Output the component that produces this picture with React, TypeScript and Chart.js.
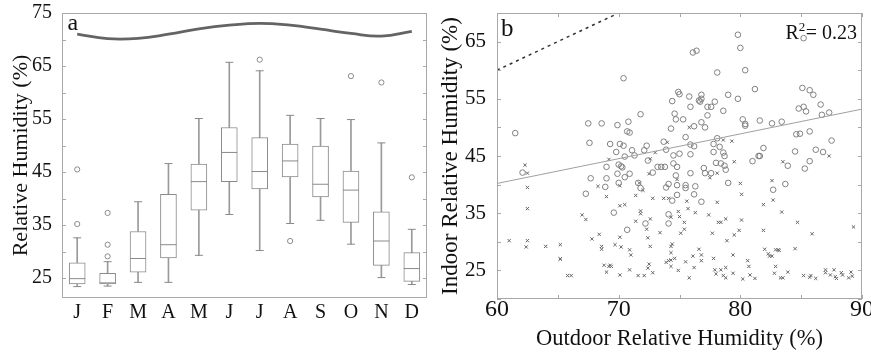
import React, { useEffect, useRef } from 'react';
import { Chart, registerables } from 'chart.js';

Chart.register(...registerables);

// ---------- Panel a: monthly indoor RH box plots ----------
const months = ['Jan', 'Feb', 'Mar', 'Apr', 'May', 'Jun', 'Jul', 'Aug', 'Sep', 'Oct', 'Nov', 'Dec'];
const monthTickLabels = ['J', 'F', 'M', 'A', 'M', 'J', 'J', 'A', 'S', 'O', 'N', 'D'];
const whiskerLow = [23.4, 23.5, 24.2, 24.2, 29.3, 37.0, 30.2, 35.3, 35.9, 31.4, 25.1, 23.8];
const boxQ1 = [23.9, 23.9, 26.1, 28.8, 37.8, 43.2, 41.8, 44.1, 40.3, 35.5, 27.4, 24.4];
const boxMedian = [24.9, 24.1, 28.7, 31.3, 43.2, 48.7, 45.1, 47.1, 42.7, 41.6, 32.0, 26.8];
const boxQ3 = [27.9, 25.9, 33.8, 40.8, 46.5, 53.4, 51.5, 50.3, 49.9, 45.2, 37.5, 29.8];
const whiskerHigh = [32.6, 28.1, 39.4, 46.6, 55.1, 65.7, 64.1, 55.7, 55.1, 54.9, 50.5, 34.2];
const outlierMonth = ['Jan', 'Jan', 'Feb', 'Feb', 'Feb', 'Jul', 'Aug', 'Oct', 'Nov', 'Dec'];
const outlierValue = [45.5, 35.2, 37.3, 31.3, 29.1, 66.2, 32.0, 63.1, 61.9, 44.0];
const outdoorMonthlyMean = [71.0, 70.15, 70.2, 71.0, 72.0, 72.7, 73.05, 72.7, 71.95, 71.15, 70.65, 71.55];
const boxTicks = [25, 35, 45, 55, 65, 75];

// ---------- Panel b: indoor vs outdoor RH ----------
const circleX = [61.5, 62.1, 67.5, 67.6, 67.7, 67.3, 68.6, 69.3, 69.0, 69.0, 68.9, 69.6, 69.9, 70.1, 69.8, 70.0, 69.9, 70.0, 70.2, 70.4, 70.8, 70.7, 70.9, 70.4, 70.5, 70.3, 70.5, 70.9, 70.7, 71.1, 71.3, 71.6, 71.8, 71.8, 72.1, 72.3, 72.4, 72.2, 72.8, 73.2, 73.5, 73.8, 73.7, 73.9, 73.9, 74.1, 74.1, 74.1, 74.3, 74.4, 74.6, 74.7, 74.5, 74.5, 74.8, 74.7, 74.8, 74.4, 74.8, 74.9, 75.0, 75.0, 75.3, 75.5, 75.5, 75.5, 75.8, 75.9, 75.9, 75.9, 75.9, 76.2, 76.2, 76.1, 76.4, 76.3, 76.2, 76.6, 76.7, 76.8, 76.8, 76.8, 76.8, 77.1, 77.0, 77.1, 77.3, 77.3, 77.6, 77.9, 77.6, 77.8, 77.8, 78.1, 78.0, 78.1, 78.3, 78.4, 78.6, 78.6, 78.7, 78.7, 78.8, 79.0, 79.0, 79.8, 79.8, 80.0, 80.4, 80.2, 80.4, 80.4, 81.0, 81.2, 81.5, 81.6, 81.6, 81.9, 82.6, 82.7, 83.4, 83.7, 83.9, 84.5, 84.6, 84.9, 84.8, 85.1, 85.2, 85.2, 85.4, 85.3, 85.7, 85.7, 85.7, 86.0, 86.2, 86.6, 86.7, 86.8, 87.3, 87.5];
const circleY = [49.0, 42.1, 50.7, 47.3, 41.1, 38.4, 50.7, 47.1, 43.1, 41.1, 39.6, 35.1, 50.4, 47.1, 45.7, 43.5, 41.9, 40.3, 43.2, 58.6, 51.0, 49.3, 49.1, 46.8, 44.9, 43.0, 41.3, 41.9, 32.1, 46.0, 45.1, 40.3, 39.4, 52.3, 46.0, 46.8, 44.2, 33.2, 42.1, 43.1, 43.1, 43.1, 47.5, 46.1, 39.5, 40.1, 34.8, 33.2, 49.8, 54.6, 52.4, 51.4, 45.1, 43.7, 43.1, 41.6, 38.2, 37.2, 39.9, 56.2, 55.8, 45.4, 51.4, 48.3, 39.9, 39.4, 55.4, 53.6, 47.0, 45.3, 42.0, 50.2, 46.7, 63.1, 63.4, 39.7, 38.3, 54.7, 54.5, 55.0, 55.7, 50.9, 37.0, 50.0, 42.9, 42.0, 53.6, 52.1, 42.0, 54.5, 53.6, 47.1, 45.7, 59.6, 43.8, 48.1, 46.6, 43.7, 52.9, 45.6, 45.0, 43.3, 42.6, 40.3, 55.7, 66.2, 55.0, 63.9, 60.0, 51.4, 50.6, 50.3, 44.1, 56.7, 45.0, 45.0, 51.2, 46.4, 50.7, 39.1, 51.0, 40.1, 43.3, 45.8, 48.8, 48.9, 53.3, 56.9, 65.6, 53.6, 52.8, 42.8, 56.5, 49.3, 44.1, 55.7, 46.1, 54.0, 52.2, 45.7, 52.6, 47.7];
const crossX = [61.0, 62.3, 62.5, 62.5, 62.5, 62.5, 62.4, 64.0, 65.2, 65.2, 65.2, 65.8, 66.1, 67.0, 67.3, 67.8, 68.3, 68.4, 68.6, 68.6, 68.8, 69.0, 69.0, 69.2, 69.3, 69.4, 69.2, 69.7, 70.1, 70.1, 70.2, 70.1, 70.5, 70.1, 70.9, 71.0, 70.9, 71.4, 71.4, 71.6, 71.8, 71.8, 71.7, 72.0, 72.1, 72.3, 72.4, 72.4, 72.5, 72.6, 72.5, 72.6, 72.6, 72.8, 72.8, 73.0, 73.4, 73.7, 73.9, 74.1, 74.3, 74.3, 74.3, 74.4, 74.3, 74.1, 74.0, 74.3, 74.6, 74.8, 74.9, 74.9, 75.0, 75.1, 75.4, 75.4, 75.5, 75.6, 75.7, 75.8, 75.8, 76.1, 76.2, 76.3, 76.6, 76.8, 76.8, 77.4, 77.5, 77.7, 77.8, 77.9, 78.0, 78.1, 78.1, 78.2, 78.4, 78.4, 78.6, 78.6, 78.8, 78.8, 78.8, 78.9, 79.3, 79.4, 79.4, 79.5, 79.5, 79.9, 80.0, 80.1, 80.1, 80.2, 80.6, 80.7, 80.8, 81.2, 81.9, 81.9, 82.0, 82.3, 82.4, 82.6, 82.7, 82.6, 82.9, 82.9, 82.8, 83.1, 83.2, 83.3, 83.5, 83.4, 83.5, 83.9, 84.5, 84.7, 85.2, 85.7, 85.8, 85.9, 86.2, 87.0, 87.0, 87.3, 87.4, 87.7, 87.8, 87.9, 88.3, 88.4, 88.9, 89.1, 89.2, 89.3];
const crossY = [30.2, 43.4, 42.0, 39.5, 35.8, 30.2, 29.1, 29.2, 29.5, 27.0, 27.0, 24.1, 24.1, 34.7, 33.9, 30.5, 39.7, 31.3, 29.2, 28.7, 25.9, 37.9, 24.7, 25.7, 25.9, 25.7, 44.4, 29.5, 30.8, 24.2, 29.1, 36.3, 36.5, 39.8, 28.6, 27.7, 25.1, 38.1, 33.6, 24.1, 35.4, 34.9, 40.3, 39.0, 24.1, 32.2, 30.7, 25.4, 41.9, 44.5, 26.1, 34.0, 29.2, 37.6, 24.6, 45.6, 31.6, 37.6, 26.4, 26.7, 26.8, 25.7, 29.2, 29.6, 28.1, 37.6, 47.4, 34.3, 27.1, 40.9, 25.0, 35.3, 34.4, 31.5, 32.2, 33.4, 26.5, 37.1, 35.8, 50.0, 23.7, 27.5, 25.5, 35.1, 28.7, 27.7, 26.7, 34.7, 41.2, 31.5, 27.1, 25.1, 24.4, 42.0, 36.9, 33.4, 25.1, 33.4, 47.8, 24.1, 34.0, 25.5, 23.7, 30.2, 47.6, 27.7, 24.5, 44.0, 31.2, 32.0, 40.2, 38.3, 33.8, 23.5, 26.7, 25.7, 24.2, 23.6, 36.5, 32.0, 28.7, 27.9, 27.5, 40.7, 37.3, 27.5, 28.6, 25.7, 24.5, 28.6, 28.5, 23.7, 23.7, 35.2, 44.0, 24.7, 28.8, 33.4, 24.1, 23.8, 24.1, 31.4, 23.6, 25.1, 24.6, 45.0, 24.2, 25.1, 23.9, 23.6, 24.6, 24.2, 23.7, 24.7, 24.0, 32.6];
const regressionX = [60, 90];
const regressionY = [40.2, 53.2];
const identityX = [60, 70];
const identityY = [60, 70];
const scatterXTicks = [60, 70, 80, 90];
const scatterYTicks = [25, 35, 45, 55, 65];
const r2Text = '0.23';

const SERIF = "'Liberation Serif', 'DejaVu Serif', serif";
const INK = '#111';

function fixAxis(size: number, horizontal: boolean) {
  return (scale: any) => {
    if (horizontal) scale.height = size;
    else scale.width = size;
    scale.paddingTop = 0;
    scale.paddingBottom = 0;
    scale.paddingLeft = 0;
    scale.paddingRight = 0;
  };
}

const framePlugin = {
  id: 'frame',
  afterDatasetsDraw(chart: any, _args: any, opts: any) {
    const { ctx, chartArea: a } = chart;
    const xs = chart.scales.x;
    const ys = chart.scales.y;
    ctx.save();
    ctx.strokeStyle = '#a8a8a8';
    ctx.lineWidth = 1;
    ctx.strokeRect(Math.round(a.left) + 0.5, Math.round(a.top) + 0.5, Math.round(a.right - a.left) - 1, Math.round(a.bottom - a.top) - 1);
    const len = 4;
    ctx.beginPath();
    const yStep = opts.yStep;
    for (let v = Math.ceil(ys.min / yStep) * yStep; v <= ys.max + 1e-6; v += yStep) {
      const py = Math.round(ys.getPixelForValue(v)) + 0.5;
      ctx.moveTo(a.left, py);
      ctx.lineTo(a.left + len, py);
      ctx.moveTo(a.right - len, py);
      ctx.lineTo(a.right, py);
    }
    if (opts.xStep) {
      const xStep = opts.xStep;
      for (let v = Math.ceil(xs.min / xStep) * xStep; v <= xs.max + 1e-6; v += xStep) {
        const px = Math.round(xs.getPixelForValue(v)) + 0.5;
        ctx.moveTo(px, a.top);
        ctx.lineTo(px, a.top + len);
        ctx.moveTo(px, a.bottom - len);
        ctx.lineTo(px, a.bottom);
      }
    }
    ctx.stroke();

    ctx.fillStyle = INK;
    ctx.textAlign = 'left';
    ctx.textBaseline = 'alphabetic';
    ctx.font = `${opts.letterSize}px ${SERIF}`;
    ctx.fillText(opts.letter, a.left + opts.letterDx, a.top + opts.letterDy);

    if (opts.r2) {
      const baseY = a.top + 25.5;
      ctx.font = `20px ${SERIF}`;
      ctx.textAlign = 'right';
      const rest = '= ' + opts.r2;
      const rightX = a.right - 5;
      ctx.fillText(rest, rightX, baseY);
      const restW = ctx.measureText(rest).width;
      ctx.font = `13px ${SERIF}`;
      const supW = ctx.measureText('2').width;
      ctx.fillText('2', rightX - restW - 0.5, baseY - 8);
      ctx.font = `20px ${SERIF}`;
      ctx.fillText('R', rightX - restW - supW - 0.5, baseY);
    }
    ctx.restore();
  },
};

function PanelA() {
  const ref = useRef<HTMLCanvasElement | null>(null);
  useEffect(() => {
    if (!ref.current) return;
    const grey = '#8a8a8a';
    const chart = new Chart(ref.current, {
      type: 'bar',
      data: {
        labels: months,
        datasets: [
          {
            type: 'line',
            data: outdoorMonthlyMean,
            borderColor: '#646464',
            borderWidth: 2.8,
            tension: 0.45,
            pointRadius: 0,
            fill: false,
          } as any,
          {
            type: 'line',
            data: boxMedian,
            showLine: false,
            pointStyle: 'line',
            pointRadius: 8,
            pointBorderColor: grey,
            pointBorderWidth: 1,
          } as any,
          {
            type: 'line',
            data: whiskerHigh,
            showLine: false,
            pointStyle: 'line',
            pointRadius: 4,
            pointBorderColor: grey,
            pointBorderWidth: 1,
          } as any,
          {
            type: 'line',
            data: whiskerLow,
            showLine: false,
            pointStyle: 'line',
            pointRadius: 4,
            pointBorderColor: grey,
            pointBorderWidth: 1,
          } as any,
          {
            type: 'line',
            data: outlierMonth.map((m, i) => ({ x: m, y: outlierValue[i] })),
            showLine: false,
            pointStyle: 'circle',
            pointRadius: 2.6,
            pointBorderColor: grey,
            pointBackgroundColor: 'rgba(0,0,0,0)',
            pointBorderWidth: 1,
          } as any,
          {
            type: 'bar',
            data: boxQ1.map((q, i) => [q, boxQ3[i]]),
            grouped: false,
            barThickness: 16,
            backgroundColor: '#ffffff',
            borderColor: grey,
            borderWidth: 1,
            borderSkipped: false,
          } as any,
          {
            type: 'bar',
            data: whiskerLow.map((w, i) => [w, boxQ1[i]]),
            grouped: false,
            barThickness: 1,
            backgroundColor: '#9a9a9a',
            borderWidth: 0,
          } as any,
          {
            type: 'bar',
            data: boxQ3.map((q, i) => [q, whiskerHigh[i]]),
            grouped: false,
            barThickness: 1,
            backgroundColor: '#9a9a9a',
            borderWidth: 0,
          } as any,
        ],
      },
      options: {
        animation: false,
        responsive: false,
        maintainAspectRatio: false,
        layout: { padding: { top: 13, right: 8, left: 0, bottom: 0 } },
        plugins: {
          legend: { display: false },
          tooltip: { enabled: false },
          frame: { yStep: 5, letter: 'a', letterSize: 24, letterDx: 5.5, letterDy: 17 },
        } as any,
        scales: {
          x: {
            type: 'category',
            offset: true,
            grid: { display: false },
            border: { display: false },
            ticks: {
              font: { family: SERIF, size: 20, lineHeight: 1 },
              color: INK,
              padding: -3,
              maxRotation: 0,
              autoSkip: false,
              callback: (_v: any, i: number) => monthTickLabels[i],
            },
            afterFit: fixAxis(57, true),
          },
          y: {
            type: 'linear',
            min: 21.25,
            max: 75,
            grid: { display: false },
            border: { display: false },
            afterBuildTicks: (s: any) => {
              s.ticks = boxTicks.map((v) => ({ value: v }));
            },
            ticks: { font: { family: SERIF, size: 20 }, color: INK, padding: 2 },
            title: {
              display: true,
              text: 'Relative Humidity (%)',
              font: { family: SERIF, size: 22 },
              color: INK,
              padding: { top: 8, bottom: 0 },
            },
            afterFit: fixAxis(62, false),
          },
        } as any,
      },
      plugins: [framePlugin],
    } as any);
    return () => chart.destroy();
  }, []);
  return <canvas ref={ref} width={436} height={355} style={{ position: 'absolute', left: 0, top: 0 }} />;
}

function PanelB() {
  const ref = useRef<HTMLCanvasElement | null>(null);
  useEffect(() => {
    if (!ref.current) return;
    const chart = new Chart(ref.current, {
      type: 'scatter',
      data: {
        datasets: [
          {
            type: 'line',
            data: identityX.map((x, i) => ({ x, y: identityY[i] })),
            borderColor: '#333',
            borderDash: [3, 4],
            borderWidth: 1.5,
            pointRadius: 0,
            fill: false,
          } as any,
          {
            type: 'line',
            data: regressionX.map((x, i) => ({ x, y: regressionY[i] })),
            borderColor: '#a0a0a0',
            borderWidth: 1,
            pointRadius: 0,
            fill: false,
          } as any,
          {
            data: circleX.map((x, i) => ({ x, y: circleY[i] })),
            pointStyle: 'circle',
            pointRadius: 2.8,
            borderColor: '#808080',
            backgroundColor: 'rgba(0,0,0,0)',
            borderWidth: 1,
          } as any,
          {
            data: crossX.map((x, i) => ({ x, y: crossY[i] })),
            pointStyle: 'crossRot',
            pointRadius: 2.3,
            borderColor: '#666',
            borderWidth: 1,
          } as any,
        ],
      },
      options: {
        animation: false,
        responsive: false,
        maintainAspectRatio: false,
        layout: { padding: { top: 13, right: 9, left: 0, bottom: 0 } },
        plugins: {
          legend: { display: false },
          tooltip: { enabled: false },
          frame: { yStep: 5, xStep: 5, letter: 'b', letterSize: 25, letterDx: 4, letterDy: 23, r2: r2Text },
        } as any,
        scales: {
          x: {
            type: 'linear',
            min: 60,
            max: 90,
            grid: { display: false },
            border: { display: false },
            afterBuildTicks: (s: any) => {
              s.ticks = scatterXTicks.map((v) => ({ value: v }));
            },
            ticks: { font: { family: SERIF, size: 24, lineHeight: 1 }, color: INK, padding: -9, maxRotation: 0 },
            title: {
              display: true,
              text: 'Outdoor Relative Humidity (%)',
              font: { family: SERIF, size: 22.5 },
              color: INK,
              padding: { top: 0, bottom: 2 },
            },
            afterFit: fixAxis(56, true),
          },
          y: {
            type: 'linear',
            min: 20,
            max: 70,
            grid: { display: false },
            border: { display: false },
            afterBuildTicks: (s: any) => {
              s.ticks = scatterYTicks.map((v) => ({ value: v }));
            },
            ticks: { font: { family: SERIF, size: 21 }, color: INK, padding: 3 },
            title: {
              display: true,
              text: 'Indoor Relative Humidity (%)',
              font: { family: SERIF, size: 23 },
              color: INK,
              padding: { top: 1.5, bottom: 0 },
            },
            afterFit: fixAxis(61, false),
          },
        } as any,
      },
      plugins: [framePlugin],
    } as any);
    return () => chart.destroy();
  }, []);
  return <canvas ref={ref} width={435} height={355} style={{ position: 'absolute', left: 436, top: 0 }} />;
}

export default function App() {
  return (
    <div style={{ position: 'absolute', left: 0, top: 0, width: 871, height: 355, background: '#fff', overflow: 'hidden' }}>
      <PanelA />
      <PanelB />
    </div>
  );
}
